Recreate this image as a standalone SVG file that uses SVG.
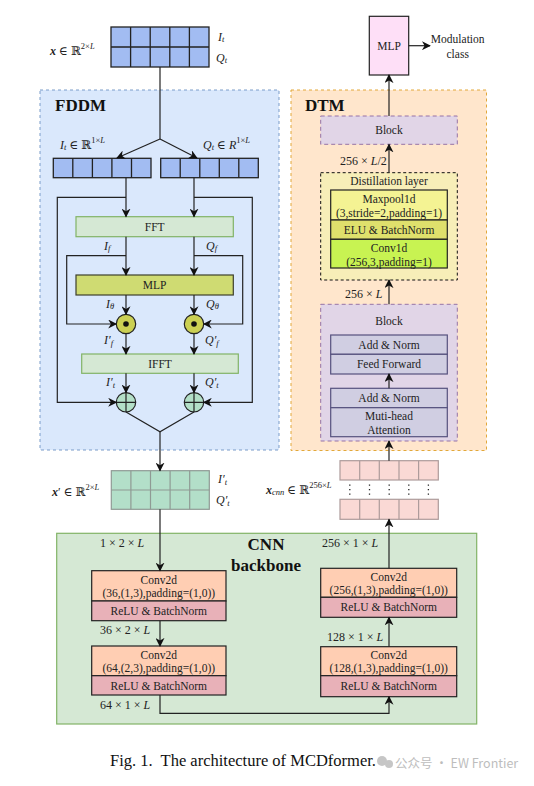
<svg xmlns="http://www.w3.org/2000/svg" width="534" height="786" viewBox="0 0 534 786">
<defs>
<marker id="ar" viewBox="0 0 10 10" refX="9" refY="5" markerWidth="9" markerHeight="9" markerUnits="userSpaceOnUse" orient="auto">
<path d="M0,0 L10,5 L0,10 L3,5 z" fill="#111"/>
</marker>
<style>
.t{font-family:Liberation Serif,serif;font-size:11.5px;fill:#222;text-anchor:middle;dominant-baseline:central}
.m{font-family:Liberation Serif,DejaVu Serif,serif;font-size:12px;fill:#222;dominant-baseline:central}
.i{font-style:italic}
.s{font-size:8.5px}
.b{font-family:Liberation Serif,serif;font-weight:bold;font-size:17px;fill:#111}
.ln{fill:none;stroke:#222;stroke-width:1.2}
.la{fill:none;stroke:#222;stroke-width:1.2;marker-end:url(#ar)}
.cell{stroke:#222;stroke-width:1.3}
.fft{fill:#d5e8d4;stroke:#82b366;stroke-width:1.2}
.blk{fill:#e1d5e7;stroke:#9673a6;stroke-width:1;stroke-dasharray:4 3}
.tb{fill:#d0cee2;stroke:#56517e;stroke-width:1.2}
.cv{fill:#ffceb3;stroke:#222;stroke-width:1.2}
.rl{fill:#e8b1b8;stroke:#222;stroke-width:1.2}
</style>
</defs>

<!-- containers -->
<g id="fddm">
<rect x="40" y="90" width="239" height="360" fill="#dae8fc" stroke="#7a9cc9" stroke-width="1" stroke-dasharray="3 3"/>
<text x="55" y="105" class="b" dominant-baseline="central">FDDM</text>
</g>
<g id="dtm">
<rect x="291" y="90" width="195.5" height="360.5" fill="#ffe6cc" stroke="#e2a83a" stroke-width="1" stroke-dasharray="3 3"/>
<text x="305" y="105" class="b" dominant-baseline="central">DTM</text>
</g>
<g id="cnn">
<rect x="56.7" y="533.3" width="420" height="190.7" fill="#d5e8d4" stroke="#82b366" stroke-width="1.2"/>
<text x="266" y="544" class="b" text-anchor="middle" dominant-baseline="central">CNN</text>
<text x="266" y="565" class="b" text-anchor="middle" dominant-baseline="central">backbone</text>
</g>

<!-- input x -->
<g id="x-input">
<rect x="111" y="27" width="98" height="40" fill="#a2bcf2" class="cell"/>
<path d="M111,47H209M130.6,27V67M150.2,27V67M169.8,27V67M189.4,27V67" class="cell" fill="none"/>
<text x="50" y="51" class="m"><tspan class="i" font-weight="bold">x</tspan> ∈ ℝ<tspan class="s" dy="-5">2×</tspan><tspan class="s i">L</tspan></text>
<text x="218" y="37" class="m i">I<tspan class="s" dy="2">t</tspan></text>
<text x="216" y="58" class="m i">Q<tspan class="s" dy="2">t</tspan></text>
</g>

<!-- It, Qt rows -->
<g id="it-row">
<rect x="53.3" y="158.3" width="97.7" height="19.4" fill="#a2bcf2" class="cell"/>
<path d="M72.8,158.3V177.7M92.4,158.3V177.7M111.9,158.3V177.7M131.5,158.3V177.7" class="cell"/>
<text x="60" y="145" class="m"><tspan class="i">I</tspan><tspan class="s i" dy="2">t</tspan><tspan dy="-2"> ∈ ℝ</tspan><tspan class="s" dy="-5">1×</tspan><tspan class="s i">L</tspan></text>
</g>
<g id="qt-row">
<rect x="160.7" y="158.3" width="97.6" height="19.4" fill="#a2bcf2" class="cell"/>
<path d="M180.2,158.3V177.7M199.8,158.3V177.7M219.3,158.3V177.7M238.8,158.3V177.7" class="cell"/>
<text x="203" y="145" class="m"><tspan class="i">Q</tspan><tspan class="s i" dy="2">t</tspan><tspan dy="-2"> ∈ </tspan><tspan class="i">R</tspan><tspan class="s" dy="-5">1×</tspan><tspan class="s i">L</tspan></text>
</g>

<g id="fft"><rect x="76" y="216.7" width="157.3" height="20" class="fft"/><text x="154.7" y="226.7" class="t">FFT</text></g>
<g id="mlp1"><rect x="76" y="275" width="157.3" height="20" fill="#cfdb72" stroke="#3d3f2c" stroke-width="1.2"/><text x="154.7" y="285" class="t">MLP</text></g>
<g id="ifft"><rect x="81.7" y="354" width="156.6" height="19.3" class="fft"/><text x="160" y="363.7" class="t">IFFT</text></g>

<g id="odot-i"><circle cx="126" cy="324" r="9.7" fill="#cbd053" stroke="#222" stroke-width="1.2"/><circle cx="126" cy="324" r="2.8" fill="#111"/></g>
<g id="odot-q"><circle cx="194" cy="324" r="9.7" fill="#cbd053" stroke="#222" stroke-width="1.2"/><circle cx="194" cy="324" r="2.8" fill="#111"/></g>
<g id="plus-i"><circle cx="126" cy="402.3" r="9.7" fill="#b3dfc7" stroke="#222" stroke-width="1.2"/><path d="M116.3,402.3H135.7M126,392.6V412" class="ln"/></g>
<g id="plus-q"><circle cx="194" cy="402.3" r="9.7" fill="#b3dfc7" stroke="#222" stroke-width="1.2"/><path d="M184.3,402.3H203.7M194,392.6V412" class="ln"/></g>

<g id="fddm-labels">
<text x="104" y="246" class="m i">I<tspan class="s" dy="2">f</tspan></text>
<text x="206" y="246" class="m i">Q<tspan class="s" dy="2">f</tspan></text>
<text x="106" y="304" class="m i">I<tspan class="s" dy="2">θ</tspan></text>
<text x="206" y="304" class="m i">Q<tspan class="s" dy="2">θ</tspan></text>
<text x="104" y="340" class="m i">I′<tspan class="s" dy="3">f</tspan></text>
<text x="205" y="340" class="m i">Q′<tspan class="s" dy="3">f</tspan></text>
<text x="106" y="382" class="m i">I′<tspan class="s" dy="3">t</tspan></text>
<text x="205" y="382" class="m i">Q′<tspan class="s" dy="3">t</tspan></text>
</g>

<!-- x' -->
<g id="xp-grid">
<rect x="111.3" y="470.7" width="98" height="38.6" fill="#b3dfc9" stroke="#8f9a94" stroke-width="1.2"/>
<path d="M111.3,490H209.3M130.9,470.7V509.3M150.5,470.7V509.3M170.1,470.7V509.3M189.7,470.7V509.3" stroke="#8f9a94" stroke-width="1.2"/>
<text x="52" y="492" class="m"><tspan class="i" font-weight="bold">x</tspan>′ ∈ ℝ<tspan class="s" dy="-5">2×</tspan><tspan class="s i">L</tspan></text>
<text x="218" y="479" class="m i">I′<tspan class="s" dy="3">t</tspan></text>
<text x="216" y="500" class="m i">Q′<tspan class="s" dy="3">t</tspan></text>
</g>

<!-- CNN boxes -->
<g id="conv36">
<rect x="91.7" y="570.7" width="134.3" height="30.3" class="cv"/><rect x="91.7" y="601" width="134.3" height="19.7" class="rl"/>
<text x="158.8" y="579.5" class="t">Conv2d</text><text x="158.8" y="593" class="t">(36,(1,3),padding=(1,0))</text><text x="158.8" y="611" class="t">ReLU &amp; BatchNorm</text>
</g>
<g id="conv64">
<rect x="91.7" y="646" width="134.3" height="29.7" class="cv"/><rect x="91.7" y="675.7" width="134.3" height="19.3" class="rl"/>
<text x="158.8" y="654.5" class="t">Conv2d</text><text x="158.8" y="668" class="t">(64,(2,3),padding=(1,0))</text><text x="158.8" y="685.5" class="t">ReLU &amp; BatchNorm</text>
</g>
<g id="conv128">
<rect x="320.7" y="646.7" width="136" height="29" class="cv"/><rect x="320.7" y="675.7" width="136" height="21" class="rl"/>
<text x="388.7" y="654.5" class="t">Conv2d</text><text x="388.7" y="668" class="t">(128,(1,3),padding=(1,0))</text><text x="388.7" y="686" class="t">ReLU &amp; BatchNorm</text>
</g>
<g id="conv256">
<rect x="320.7" y="568.3" width="136" height="29" class="cv"/><rect x="320.7" y="597.3" width="136" height="20" class="rl"/>
<text x="388.7" y="576.5" class="t">Conv2d</text><text x="388.7" y="590" class="t">(256,(1,3),padding=(1,0))</text><text x="388.7" y="607.3" class="t">ReLU &amp; BatchNorm</text>
</g>
<g id="cnn-labels">
<text x="100" y="543" class="m">1 × 2 × <tspan class="i">L</tspan></text>
<text x="100" y="630" class="m">36 × 2 × <tspan class="i">L</tspan></text>
<text x="100" y="705" class="m">64 × 1 × <tspan class="i">L</tspan></text>
<text x="327" y="637" class="m">128 × 1 × <tspan class="i">L</tspan></text>
<text x="322" y="543" class="m">256 × 1 × <tspan class="i">L</tspan></text>
</g>

<!-- x_cnn grid -->
<g id="xcnn-grid">
<rect x="340" y="460.7" width="98.3" height="19.3" fill="#fad9d5" stroke="#ad9b9b" stroke-width="1.2"/>
<rect x="340" y="499.3" width="98.3" height="20" fill="#fad9d5" stroke="#ad9b9b" stroke-width="1.2"/>
<path d="M359.7,460.7V480M379.3,460.7V480M399,460.7V480M418.6,460.7V480M359.7,499.3V519.3M379.3,499.3V519.3M399,499.3V519.3M418.6,499.3V519.3" stroke="#ad9b9b" stroke-width="1.2"/>
<path d="M349.8,484.5V496M369.5,484.5V496M389.2,484.5V496M408.8,484.5V496M428.4,484.5V496" stroke="#222" stroke-width="1.3" stroke-dasharray="1.3 3.2"/>
<text x="266" y="490" class="m"><tspan class="i" font-weight="bold">x</tspan><tspan class="s i" dy="2">cnn</tspan><tspan dy="-2"> ∈ ℝ</tspan><tspan class="s" dy="-5">256×</tspan><tspan class="s i">L</tspan></text>
</g>

<!-- DTM -->
<g id="block2">
<rect x="320.7" y="304.3" width="136.6" height="136.7" class="blk"/>
<text x="389" y="321" class="t">Block</text>
<rect x="330.7" y="335" width="116.6" height="19.3" class="tb"/><text x="389" y="344.7" class="t">Add &amp; Norm</text>
<rect x="330.7" y="354.3" width="116.6" height="19.7" class="tb"/><text x="389" y="364.2" class="t">Feed Forward</text>
<rect x="330.7" y="388.3" width="116.6" height="19.4" class="tb"/><text x="389" y="398" class="t">Add &amp; Norm</text>
<rect x="330.7" y="407.7" width="116.6" height="29" class="tb"/><text x="389" y="415.5" class="t">Muti-head</text><text x="389" y="430" class="t">Attention</text>
</g>
<g id="distill">
<rect x="320.7" y="172.7" width="136.6" height="107.3" fill="#f7eeb8" stroke="#111" stroke-width="1" stroke-dasharray="3 2.5"/>
<text x="389" y="181" class="t">Distillation layer</text>
<rect x="330.7" y="190" width="116.6" height="30" fill="#f4f393" stroke="#222" stroke-width="1.2"/>
<text x="389" y="198.5" class="t">Maxpool1d</text><text x="389" y="212.5" class="t">(3,stride=2,padding=1)</text>
<rect x="330.7" y="220" width="116.6" height="19.3" fill="#dfe06c" stroke="#222" stroke-width="1.2"/>
<text x="389" y="229.7" class="t">ELU &amp; BatchNorm</text>
<rect x="330.7" y="239.3" width="116.6" height="28.7" fill="#c8f352" stroke="#222" stroke-width="1.2"/>
<text x="389" y="247.5" class="t">Conv1d</text><text x="389" y="262" class="t">(256,3,padding=1)</text>
</g>
<g id="block1">
<rect x="320.7" y="116" width="136.6" height="28.3" class="blk"/>
<text x="389" y="130.2" class="t">Block</text>
</g>
<g id="dtm-labels">
<text x="340" y="161" class="m">256 × <tspan class="i">L</tspan>/2</text>
<text x="345" y="294.3" class="m">256 × <tspan class="i">L</tspan></text>
</g>
<g id="mlp-out">
<rect x="369.3" y="16.3" width="39.4" height="58.7" fill="#fedff7" stroke="#222" stroke-width="1.2"/>
<text x="389" y="45.7" class="t">MLP</text>
<text x="457.7" y="39" class="t">Modulation</text>
<text x="457.7" y="53.5" class="t">class</text>
</g>

<!-- connectors -->
<g id="connectors">
<path d="M160,67V139" class="ln"/>
<path d="M160,139L117,158" class="la"/>
<path d="M160,139L197,158" class="la"/>
<path d="M126,177.7V216.7" class="la"/>
<path d="M194,177.7V216.7" class="la"/>
<path d="M126,197.3H57.3V402.3H116.3" class="la"/>
<path d="M194,197.3H252.3V402.3H203.7" class="la"/>
<path d="M126,236.7V275" class="la"/>
<path d="M194,236.7V275" class="la"/>
<path d="M126,255.7H66.7V324H116.3" class="la"/>
<path d="M194,255.7H242.7V324H203.7" class="la"/>
<path d="M126,295V314.3" class="la"/>
<path d="M194,295V314.3" class="la"/>
<path d="M126,333.7V354" class="la"/>
<path d="M194,333.7V354" class="la"/>
<path d="M126,373.3V392.6" class="la"/>
<path d="M194,373.3V392.6" class="la"/>
<path d="M126,412L160,431.7L194,412" class="ln"/>
<path d="M160,431.7V470.7" class="la"/>
<path d="M160,509.3V570.7" class="la"/>
<path d="M160,620.7V646" class="la"/>
<path d="M160,695V713.3H389V696.7" class="la"/>
<path d="M389,646.7V617.3" class="la"/>
<path d="M389,568.3V519.3" class="la"/>
<path d="M389,460.7V441" class="la"/>
<path d="M389,388.3V374" class="la"/>
<path d="M389,304.3V280" class="la"/>
<path d="M389,172.7V144.3" class="la"/>
<path d="M389,116V75" class="la"/>
<path d="M408.7,45.7H430" class="la"/>
</g>

<!-- caption -->
<text x="110" y="760" font-family="Liberation Serif,serif" font-size="16.5" fill="#111" dominant-baseline="central" xml:space="preserve">Fig. 1.  The architecture of MCDformer.</text>
<g opacity="0.55">
<circle cx="382" cy="761" r="5" fill="#999"/><circle cx="389" cy="764" r="4" fill="#999"/>
<text x="395" y="762" font-family="Noto Sans CJK SC,Noto Sans,sans-serif" font-size="12.5" fill="#888" dominant-baseline="central">公众号 · EW Frontier</text>
</g>
</svg>
